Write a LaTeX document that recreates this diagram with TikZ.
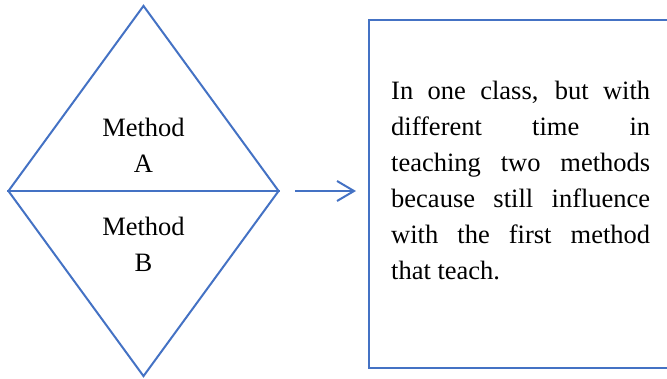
\documentclass[tikz,border=0pt]{standalone}
\usepackage{fontspec}
\setmainfont{Liberation Serif}
\usetikzlibrary{shapes.geometric,arrows.meta}
\definecolor{wordblue}{RGB}{68,114,196}
\begin{document}
\begin{tikzpicture}[x=1pt,y=-1pt,
    line/.style={draw=wordblue, line width=2pt},
    label/.style={font=\fontsize{26.5}{36}\selectfont, inner sep=0pt}]
    \useasboundingbox (0,0) rectangle (667,378);
    \node[line, diamond, minimum width=271pt, minimum height=371pt, inner sep=0pt] (methods) at (143.5,191) {};
    \draw[line] (methods.west) -- (methods.east);
    \node[label, align=center, anchor=north] (methodA) at (143.5,118) {Method\\A};
    \node[label, align=center, anchor=north] (methodB) at (143.5,217) {Method\\B};
    \node[line, rectangle, minimum width=302pt, minimum height=348pt, inner sep=0pt] (note) at (520,194) {};
    \node[label, align=justify, text width=259pt, anchor=north west] (notetext) at (391,81)
      {In one class, but with\linebreak different time in\linebreak teaching two methods\linebreak
       because still influence\linebreak with the first method\linebreak that teach.};
    \draw[line, -{Straight Barb[length=17pt,width=20pt]}, shorten <=15pt, shorten >=12pt]
      (methods.east) -- (methods.east -| note.west);
\end{tikzpicture}
\end{document}
